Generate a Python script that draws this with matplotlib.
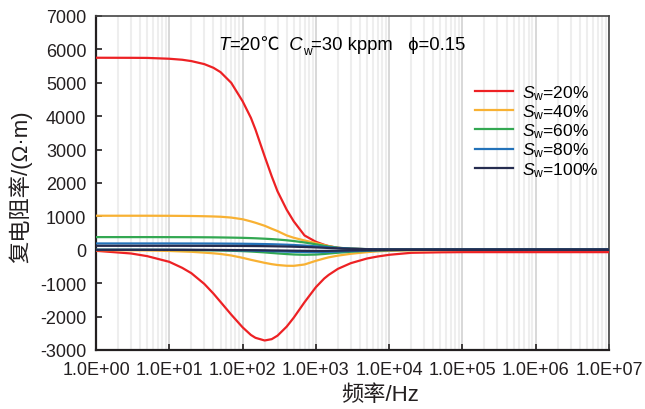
import matplotlib
matplotlib.use("Agg")
import matplotlib.pyplot as plt
from matplotlib.ticker import LogLocator, FixedLocator, NullFormatter, FuncFormatter
import numpy as np

# 频率 (Hz) 与各含水饱和度下的复电阻率实部/虚部 (Ω·m)
freq = [1, 3, 5, 10, 15, 20, 30, 40, 50, 70, 100, 130, 150, 200, 250, 300,
        400, 500, 700, 1e3, 1.3e3, 1.5e3, 2e3, 3e3, 5e3, 7e3, 1e4, 2e4, 5e4, 1e5, 1e6, 1e7]

sw_labels = ["20%", "40%", "60%", "80%", "100%"]
colors = ["#ED2124", "#F8B133", "#33A852", "#2372B9", "#252C4F"]

real_20 = [5750, 5748, 5745, 5720, 5690, 5650, 5560, 5450, 5320, 5000, 4450, 3950, 3600, 2800, 2200, 1750,
           1200, 850, 430, 240, 150, 110, 60, 30, 18, 14, 12, 10, 10, 10, 10, 10]
imag_20 = [-30, -110, -190, -360, -540, -700, -1020, -1310, -1560, -1940, -2320, -2550, -2635, -2715, -2675, -2570,
           -2300, -2030, -1570, -1120, -860, -750, -570, -400, -260, -200, -150, -90, -75, -70, -70, -70]
real_40 = [1020, 1020, 1020, 1018, 1015, 1012, 1005, 998, 990, 965, 915, 850, 810, 720, 630, 560,
           430, 360, 280, 200, 140, 110, 55, 30, 18, 14, 12, 10, 10, 10, 10, 10]
imag_40 = [-10, -15, -20, -35, -50, -60, -85, -105, -125, -170, -240, -300, -330, -390, -430, -455,
           -478, -480, -440, -330, -260, -225, -175, -120, -70, -45, -30, -15, -8, -5, 0, 0]
real_60 = [380, 380, 380, 379, 378, 377, 375, 373, 370, 365, 358, 350, 345, 332, 320, 308,
           285, 262, 220, 165, 120, 98, 62, 35, 20, 15, 12, 10, 10, 10, 10, 10]
imag_60 = [0, -1, -2, -4, -6, -8, -12, -16, -20, -28, -40, -52, -60, -78, -95, -108,
           -128, -140, -150, -142, -125, -112, -88, -58, -32, -20, -12, -5, 0, 0, 0, 0]
real_80 = [190, 190, 190, 190, 189, 189, 188, 187, 186, 184, 181, 178, 176, 171, 166, 161,
           152, 143, 126, 104, 85, 74, 54, 34, 20, 15, 12, 10, 10, 10, 10, 10]
imag_80 = [0, 0, -1, -2, -3, -4, -6, -8, -10, -14, -19, -24, -27, -34, -40, -46,
           -55, -61, -68, -70, -66, -62, -52, -38, -22, -14, -8, -3, 0, 0, 0, 0]
real_100 = [120, 120, 120, 120, 120, 119, 119, 118, 118, 117, 115, 113, 112, 109, 106, 103,
            98, 93, 84, 72, 61, 55, 43, 29, 18, 14, 12, 10, 10, 10, 10, 10]
imag_100 = [0, 0, 0, -1, -1, -2, -3, -4, -5, -7, -9, -11, -12, -15, -18, -20,
            -24, -27, -31, -34, -33, -31, -27, -20, -12, -8, -5, -2, 0, 0, 0, 0]

reals = [real_20, real_40, real_60, real_80, real_100]
imags = [imag_20, imag_40, imag_60, imag_80, imag_100]

# 字体设置
plt.rcParams['font.family'] = ['Liberation Sans', 'Noto Sans CJK SC', 'DejaVu Sans']
plt.rcParams['mathtext.fontset'] = 'custom'
plt.rcParams['mathtext.rm'] = 'Liberation Sans'
plt.rcParams['mathtext.it'] = 'Liberation Sans:italic'
plt.rcParams['axes.unicode_minus'] = False

fig = plt.figure(figsize=(6.45, 4.10), dpi=100)
ax = fig.add_axes([96 / 645, 1 - 351 / 410, 513 / 645, 334 / 410])

for i in range(5):
    ax.plot(freq, reals[i], color=colors[i], lw=1.6, zorder=3,
            label=r"$S_{\mathrm{w}}$=" + sw_labels[i])
    ax.plot(freq, imags[i], color=colors[i], lw=1.6, zorder=3)

ax.set_xscale('log')
ax.set_xlim(1, 1e7)
ax.set_ylim(-3000, 7000)

ax.xaxis.set_major_locator(LogLocator(base=10, numticks=10))
ax.xaxis.set_minor_locator(LogLocator(base=10, subs=np.arange(2, 10), numticks=100))
ax.xaxis.set_minor_formatter(NullFormatter())
ax.xaxis.set_major_formatter(FuncFormatter(lambda v, p: "1.0E+%02d" % int(round(np.log10(v)))))
ax.yaxis.set_major_locator(FixedLocator(np.arange(-3000, 7001, 1000)))
ax.yaxis.set_major_formatter(FuncFormatter(lambda v, p: "%d" % v))

ax.xaxis.grid(True, which='major', color='#d2d2d2', lw=1.2, zorder=0)
ax.xaxis.grid(True, which='minor', color='#eeeeee', lw=1.5, zorder=0)
ax.set_axisbelow(True)

ax.tick_params(which='major', direction='in', length=4, width=1.2, labelsize=13,
               colors='#231F20')
ax.tick_params(axis='y', pad=7)
ax.tick_params(axis='x', pad=8)
ax.tick_params(which='minor', length=0)

for s in ['left', 'bottom']:
    ax.spines[s].set_linewidth(1.6)
    ax.spines[s].set_color('#231F20')
for s in ['top', 'right']:
    ax.spines[s].set_linewidth(1.2)
    ax.spines[s].set_color('#444444')

fig.text(380 / 645, 1 - 396 / 410, "频率/Hz", ha='center', va='center', fontsize=16,
         color='#231F20')
fig.text(20 / 645, 1 - 187 / 410, "复电阻率/(Ω·m)", ha='center', va='center', fontsize=16,
         rotation=90, color='#231F20')

# 标注文字: T=20℃  Cw=30 kppm   ϕ=0.15
fs = 13.3
t = fig.text(218 / 645, 1 - 50 / 410, "T", fontsize=fs, fontstyle='italic', va='baseline')
t = ax.annotate("=20", xy=(1, 0), xycoords=t, va='bottom', fontsize=fs)
t = ax.annotate("℃", xy=(1, 0), xycoords=t, va='bottom', fontsize=fs,
                family=['Noto Sans CJK SC', 'DejaVu Sans'])
t = ax.annotate("  C", xy=(1, 0), xycoords=t, va='bottom', fontsize=fs, fontstyle='italic')
t = ax.annotate("w", xy=(1, 0), xycoords=t, xytext=(0, -3), textcoords='offset points',
                va='bottom', fontsize=fs * 0.65)
t = ax.annotate("=30 kppm   ϕ=0.15", xy=(1, 0), xycoords=t, xytext=(0, 3),
                textcoords='offset points', va='bottom', fontsize=fs,
                family=['Liberation Sans', 'DejaVu Sans'])

ax.legend(loc='upper left', bbox_to_anchor=(475 / 645, 1 - 84 / 410),
          bbox_transform=fig.transFigure, frameon=False, fontsize=12.5,
          handlelength=2.2, handletextpad=0.5, labelspacing=0.03, borderpad=0,
          borderaxespad=0)

fig.savefig("out.png", dpi=100)
